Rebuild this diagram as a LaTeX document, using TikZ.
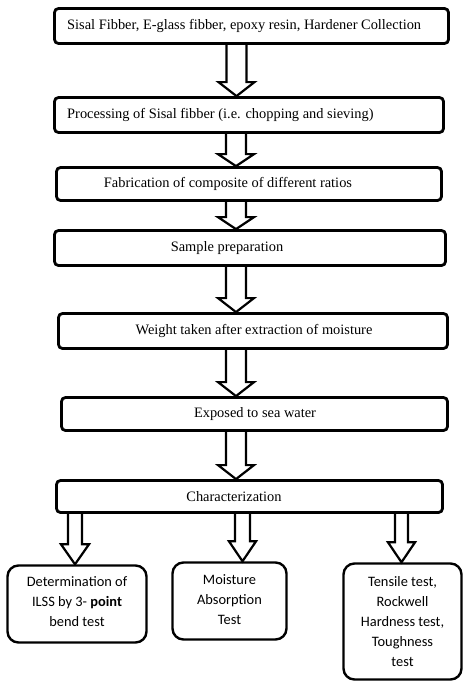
\documentclass[tikz,border=0pt]{standalone}
\usepackage{fontspec}
\setmainfont{Liberation Serif}
\newfontfamily\calibri{Carlito}
\usetikzlibrary{calc}

% fleche creuse : depart, arrivee, x, demi-corps, demi-tete, longueur tete
\newcommand{\flechebloc}[6]{%
  \draw[fleche] let \p1=(#1.south), \p2=(#2.north) in
    ({#3pt-#4pt},\y1) -- ({#3pt-#4pt},\y2+#6pt) -- ({#3pt-#5pt},\y2+#6pt)
    -- (#3pt,\y2) -- ({#3pt+#5pt},\y2+#6pt) -- ({#3pt+#4pt},\y2+#6pt)
    -- ({#3pt+#4pt},\y1);
}

\begin{document}
\begin{tikzpicture}[x=1pt,y=-1pt]
	\tikzset{boite/.style={draw=black, line width=2.8pt, rounded corners=4pt, inner sep=0pt},
	case/.style={draw=black, line width=2.4pt, rounded corners=11pt, inner sep=0pt},
	texte/.style={font=\fontsize{14.4}{17}\selectfont, inner sep=0pt},
	essai/.style={font=\calibri\fontsize{14.4}{20}\selectfont, align=center, inner sep=0pt},
	fleche/.style={line width=2.2pt, line join=miter}};

	\useasboundingbox (0,0) rectangle (470,685);

	\node[boite, minimum width=394pt, minimum height=35pt] (b1) at (251.5, 26) {};
	\node[boite, minimum width=389pt, minimum height=35pt] (b2) at (249, 115) {};
	\node[boite, minimum width=385pt, minimum height=33pt] (b3) at (249, 184) {};
	\node[boite, minimum width=391pt, minimum height=35pt] (b4) at (250, 248) {};
	\node[boite, minimum width=389pt, minimum height=35pt] (b5) at (253, 331) {};
	\node[boite, minimum width=386pt, minimum height=33pt] (b6) at (254.5, 414) {};
	\node[boite, minimum width=386pt, minimum height=32pt] (b7) at (249.5, 496.5) {};

	\node[texte, anchor=west] (t1) at (67, 26) {Sisal Fibber, E-glass fibber, epoxy resin, Hardener Collection};
	\node[texte, anchor=west] (t2) at (67, 115) {Processing of Sisal fibber (i.e. chopping and sieving)};
	\node[texte] (t3) at (228, 184) {Fabrication of composite of different ratios};
	\node[texte] (t4) at (227, 248) {Sample preparation};
	\node[texte] (t5) at (254, 331) {Weight taken after extraction of moisture};
	\node[texte] (t6) at (255, 414) {Exposed to sea water};
	\node[texte] (t7) at (234, 496.5) {Characterization};

	\node[case, minimum width=139pt, minimum height=77pt] (c1) at (77, 604) {};
	\node[case, minimum width=114pt, minimum height=77pt] (c2) at (229.5, 601) {};
	\node[case, minimum width=118pt, minimum height=116pt] (c3) at (402.5, 621.5) {};

	\node[essai] (e1) at (77, 602) {Determination of\\ ILSS by 3- \textbf{point}\\ bend test};
	\node[essai] (e2) at (229.5, 600) {Moisture\\ Absorption\\ Test};
	\node[essai] (e3) at (402.5, 622) {Tensile test,\\ Rockwell\\ Hardness test,\\ Toughness\\ test};

	\flechebloc{b1}{b2}{236.5}{10}{18}{14}
	\flechebloc{b2}{b3}{236}{10}{18}{12}
	\flechebloc{b3}{b4}{236}{10}{18}{12}
	\flechebloc{b4}{b5}{236}{10}{18}{14}
	\flechebloc{b5}{b6}{236}{10}{18}{14}
	\flechebloc{b6}{b7}{236}{10}{18}{14}

	\flechebloc{b7}{c1}{75}{7}{14}{20}
	\flechebloc{b7}{c2}{242.5}{7.5}{13.5}{20}
	\flechebloc{b7}{c3}{401.5}{6.5}{13.5}{20}
\end{tikzpicture}
\end{document}
